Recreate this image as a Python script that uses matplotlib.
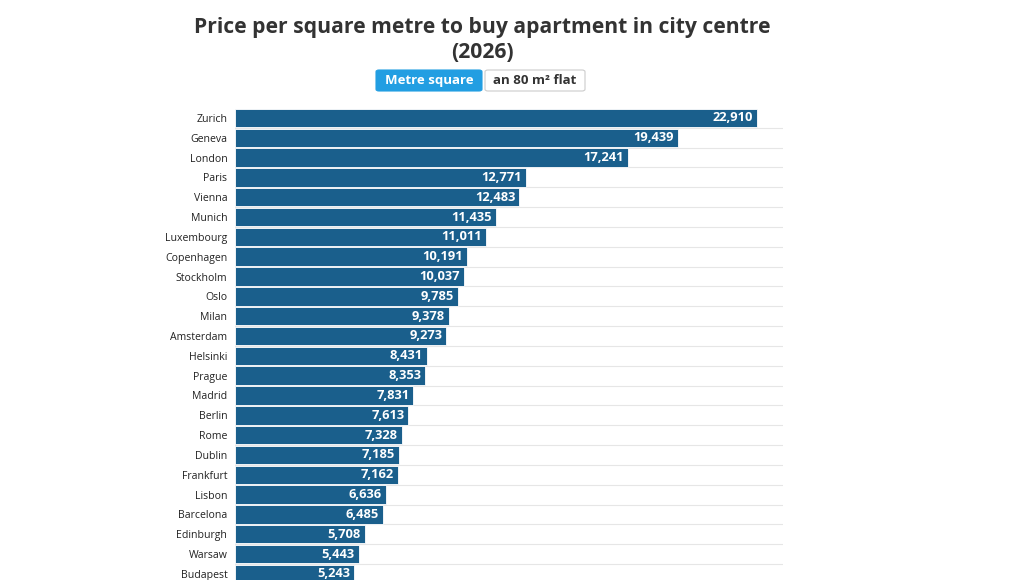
import matplotlib.pyplot as plt
from matplotlib.patches import FancyBboxPatch

cities = ["Zurich", "Geneva", "London", "Paris", "Vienna", "Munich", "Luxembourg",
          "Copenhagen", "Stockholm", "Oslo", "Milan", "Amsterdam", "Helsinki", "Prague",
          "Madrid", "Berlin", "Rome", "Dublin", "Frankfurt", "Lisbon", "Barcelona",
          "Edinburgh", "Warsaw", "Budapest"]
prices = [22910, 19439, 17241, 12771, 12483, 11435, 11011, 10191, 10037, 9785, 9378,
          9273, 8431, 8353, 7831, 7613, 7328, 7185, 7162, 6636, 6485, 5708, 5443, 5243]

plt.rcParams['font.family'] = ['Open Sans', 'DejaVu Sans']

fig = plt.figure(figsize=(10.11, 5.8), dpi=100)
W, H = 1011, 580

top_px, bot_px = 108, 580
ax = fig.add_axes([235 / W, 0, (783 - 235) / W, (bot_px - top_px) / H])
pitch = 19.826
ypos = list(range(len(cities)))
ax.barh(ypos, prices, height=0.93, color="#1a5f8c", edgecolor="white", linewidth=0.6, zorder=2)
ax.set_xlim(0, 24050)
ax.set_ylim(-0.5 + (bot_px - top_px) / pitch, -0.5)

for i in range(len(cities)):
    ax.axhline(i + 0.5, color="#e6e6e6", linewidth=0.8, zorder=1)

for i, (c, v) in enumerate(zip(cities, prices)):
    ax.text(v - 180, i, f"{v:,}", color="white", fontsize=9.3, fontweight="bold",
            ha="right", va="center", zorder=3)

ax.set_yticks(ypos)
ax.set_yticklabels(cities, fontsize=7.6, color="#222222")
ax.tick_params(axis="y", length=0, pad=5.5)
ax.set_xticks([])
for s in ax.spines.values():
    s.set_visible(False)

fig.text(482 / W, 1 - 27 / H, "Price per square metre to buy apartment in city centre",
         ha="center", va="center", fontsize=15.2, fontweight="bold", color="#333333")
fig.text(482 / W, 1 - 52 / H, "(2026)", ha="center", va="center",
         fontsize=15.2, fontweight="bold", color="#333333")

# toggle buttons
b1 = FancyBboxPatch((376 / W, 1 - 91 / H), 106 / W, 21 / H, boxstyle="round,pad=0,rounding_size=0.003",
                    transform=fig.transFigure, facecolor="#229ee2", edgecolor="#229ee2", linewidth=0.8)
b2 = FancyBboxPatch((485 / W, 1 - 91 / H), 100 / W, 21 / H, boxstyle="round,pad=0,rounding_size=0.003",
                    transform=fig.transFigure, facecolor="white", edgecolor="#cccccc", linewidth=0.8)
fig.patches.extend([b1, b2])
fig.text(429 / W, 1 - 80.5 / H, "Metre square", ha="center", va="center",
         fontsize=9.5, fontweight="bold", color="white")
fig.text(535 / W, 1 - 80.5 / H, "an 80 m² flat", ha="center", va="center",
         fontsize=9.5, fontweight="bold", color="#333333")

fig.savefig("out.png", dpi=100)
